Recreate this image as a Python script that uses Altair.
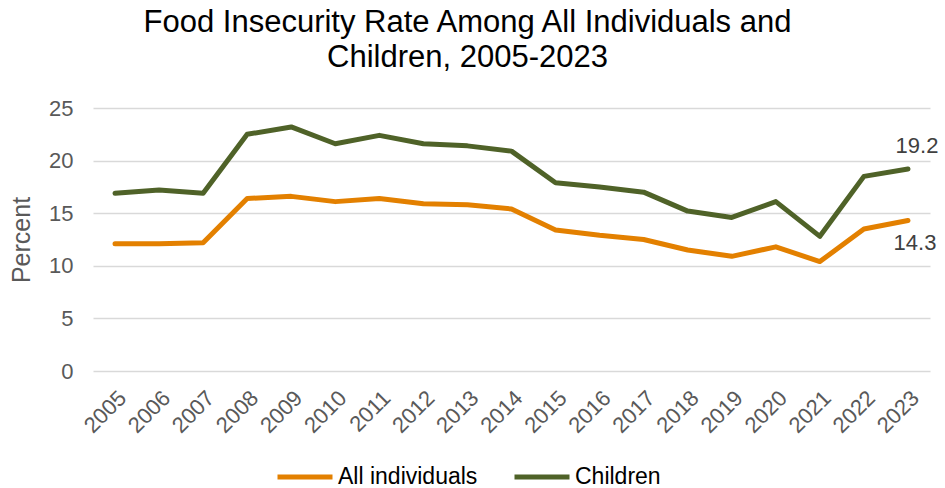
import altair as alt
import pandas as pd

# Food insecurity rates (percent), 2005-2023
years = [str(y) for y in range(2005, 2024)]
all_individuals = [12.1, 12.1, 12.2, 16.4, 16.6, 16.1, 16.4, 15.9, 15.8, 15.4,
                   13.4, 12.9, 12.5, 11.5, 10.9, 11.8, 10.4, 13.5, 14.3]
children = [16.9, 17.2, 16.9, 22.5, 23.2, 21.6, 22.4, 21.6, 21.4, 20.9,
            17.9, 17.5, 17.0, 15.2, 14.6, 16.1, 12.8, 18.5, 19.2]

series_names = ["All individuals", "Children"]
series_colors = ["#E38000", "#4F6228"]

df = pd.DataFrame({
    "Year": years * 2,
    "Percent": all_individuals + children,
    "Series": [series_names[0]] * len(years) + [series_names[1]] * len(years),
})

FONT = "Liberation Sans"

x_scale = alt.Scale(type="point", padding=0.5)
y_scale = alt.Scale(domain=[0, 25], nice=False, zero=True)

x_enc = alt.X("Year:O", scale=x_scale,
              axis=alt.Axis(title=None, labelAngle=-45, labelFontSize=22,
                            labelColor="#595959", labelFont=FONT, ticks=False,
                            domain=False, labelPadding=16))
y_enc = alt.Y("Percent:Q", scale=y_scale,
              axis=alt.Axis(title="Percent", values=[0, 5, 10, 15, 20, 25],
                            titleFontSize=25, titleFont=FONT, titleColor="#595959",
                            titleFontWeight="normal", titlePadding=14,
                            labelFontSize=22, labelFont=FONT, labelColor="#595959",
                            labelPadding=20, ticks=False, domain=False,
                            gridColor="#D9D9D9", gridWidth=1.5))

lines = alt.Chart(df).mark_line(strokeWidth=5, strokeCap="round", strokeJoin="round").encode(
    x=x_enc,
    y=y_enc,
    color=alt.Color("Series:N",
                    scale=alt.Scale(domain=series_names, range=series_colors),
                    legend=alt.Legend(title=None, orient="none", direction="horizontal",
                                      legendX=182, legendY=339,
                                      symbolType="stroke", symbolSize=3025,
                                      symbolStrokeWidth=5, labelFontSize=23,
                                      labelFont=FONT, labelColor="#000000",
                                      labelOffset=3, columnPadding=26)),
)

last = df[df["Year"] == years[-1]].copy()
last["Label"] = last["Percent"].map(lambda v: f"{v:.1f}")

label_children = alt.Chart(last[last["Series"] == "Children"]).mark_text(
    fontSize=22, font=FONT, color="#404040", dx=9, dy=-23, align="center", baseline="middle"
).encode(x=alt.X("Year:O", scale=x_scale), y=alt.Y("Percent:Q", scale=y_scale), text="Label:N")

label_all = alt.Chart(last[last["Series"] == "All individuals"]).mark_text(
    fontSize=22, font=FONT, color="#404040", dx=7, dy=22, align="center", baseline="middle"
).encode(x=alt.X("Year:O", scale=x_scale), y=alt.Y("Percent:Q", scale=y_scale), text="Label:N")

chart = alt.layer(lines, label_children, label_all).properties(
    width=837,
    height=263,
    title=alt.TitleParams(
        text=["Food Insecurity Rate Among All Individuals and", "Children, 2005-2023"],
        fontSize=31, font=FONT, fontWeight="normal", color="#000000",
        lineHeight=35, anchor="middle", dx=-44, offset=23,
    ),
    autosize=alt.AutoSizeParams(type="none"),
    padding={"left": 93, "top": 108, "right": 15, "bottom": 117},
).configure(background="white").configure_view(stroke=None)

chart.save("out.html", embed_options={"renderer": "svg", "actions": False})
